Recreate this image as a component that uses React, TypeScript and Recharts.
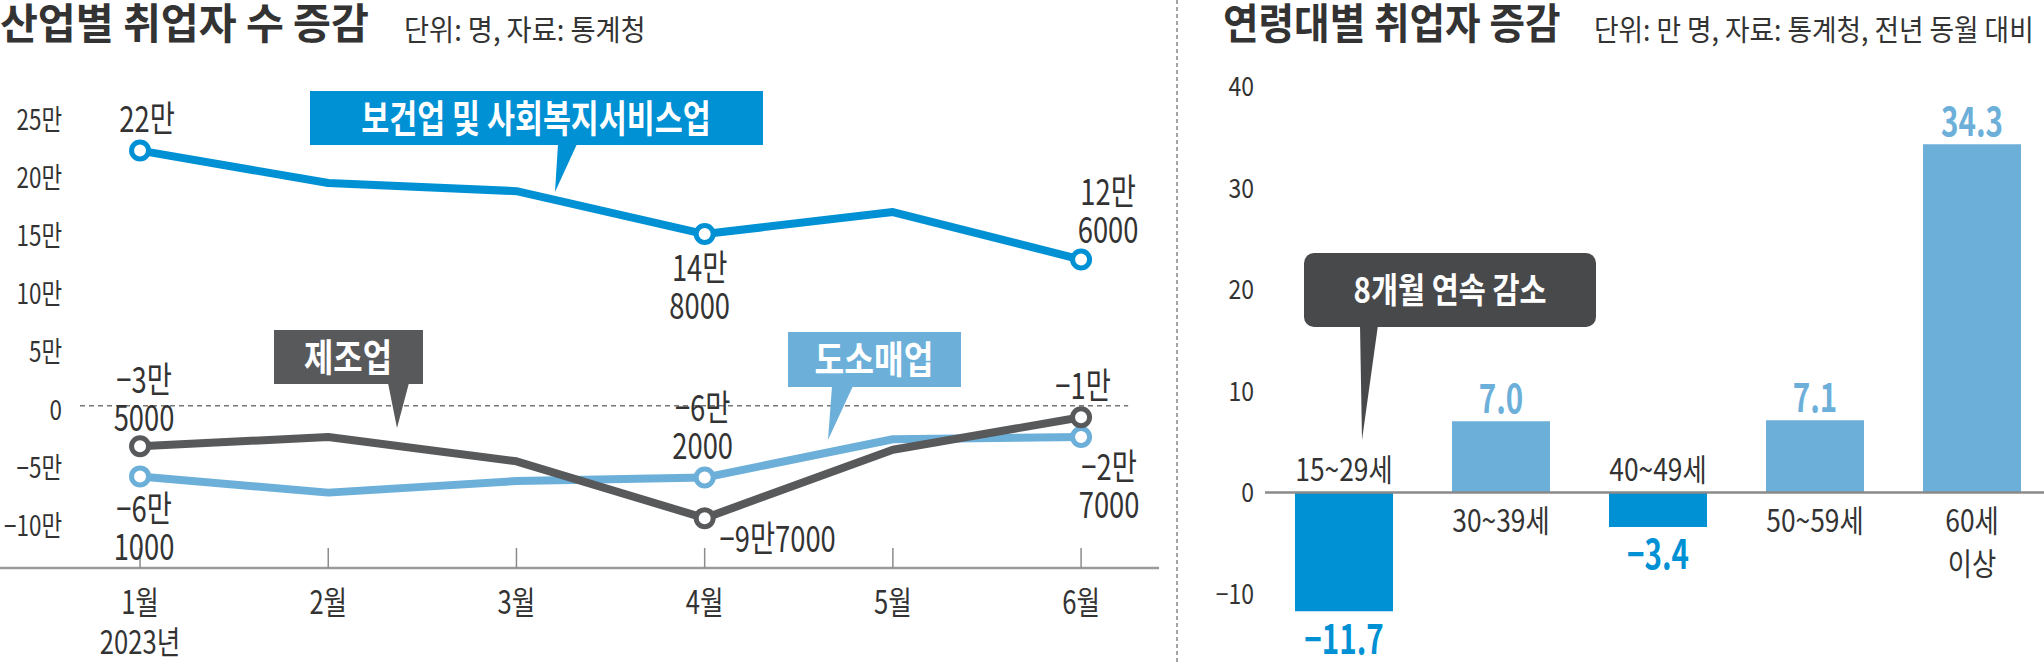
import React from "react";
import {
  Bar,
  BarChart,
  Cell,
  LabelList,
  Line,
  LineChart,
  ReferenceLine,
  XAxis,
  YAxis,
} from "recharts";

// ── data ────────────────────────────────────────────────────────────────────

const months = ["1월", "2월", "3월", "4월", "5월", "6월"];
const monthNo = [1, 2, 3, 4, 5, 6];
// 취업자 수 증감, 만 명
const healthWelfare = [22.0, 19.2, 18.5, 14.8, 16.7, 12.6];
const manufacturing = [-3.5, -2.7, -4.8, -9.7, -3.8, -1.0];
const wholesaleRetail = [-6.1, -7.5, -6.5, -6.2, -2.9, -2.7];
const lineTicks = [-10, -5, 0, 5, 10, 15, 20, 25];
const labelledMonths = [0, 3, 5];

const ageGroups = ["15~29세", "30~39세", "40~49세", "50~59세", "60세 이상"];
const ageChange = [-11.7, 7.0, -3.4, 7.1, 34.3];
const barTicks = [-10, 0, 10, 20, 30, 40];

// ── style ───────────────────────────────────────────────────────────────────

const BLUE = "#0091d5";
const LIGHT = "#6cb0da";
const GRAY = "#58595b";
const INK = "#333333";
const FONT = "'Noto Sans CJK KR', 'Noto Sans', sans-serif";
const MINUS = "\u2212";

// condensed text, first line centred vertically on y, more lines below
function CText({
  x,
  y,
  size,
  sx = 0.8,
  anchor = "middle",
  fill = INK,
  weight = 400,
  gap = 38,
  lines,
}: {
  x: number;
  y: number;
  size: number;
  sx?: number;
  anchor?: "start" | "middle" | "end";
  fill?: string;
  weight?: number;
  gap?: number;
  lines: string[];
}) {
  return (
    <text
      transform={`translate(${x} ${y}) scale(${sx} 1)`}
      textAnchor={anchor}
      fontSize={size}
      fontWeight={weight}
      fill={fill}
      fontFamily={FONT}
    >
      {lines.map((t, k) => (
        <tspan key={k} x={0} y={k * gap} dy="0.36em">
          {t}
        </tspan>
      ))}
    </text>
  );
}

// 14.8 -> ["14만", "8000"]
function manParts(v: number): [string, string] {
  const tenths = Math.round(Math.abs(v) * 10);
  const sign = v < 0 ? MINUS : "";
  const rest = tenths % 10 ? `${(tenths % 10) * 1000}` : "";
  return [`${sign}${Math.floor(tenths / 10)}만`, rest];
}

// where each point label sits relative to its marker
type Place = { dx: number; dy: number; inline?: boolean };
const healthPlace: Record<number, Place> = {
  0: { dx: 7, dy: -32 },
  3: { dx: -5, dy: 34 },
  5: { dx: 27, dy: -68 },
};
const mfgPlace: Record<number, Place> = {
  0: { dx: 4, dy: -66 },
  3: { dx: 73, dy: 21, inline: true },
  5: { dx: 2, dy: -31 },
};
const retailPlace: Record<number, Place> = {
  0: { dx: 4, dy: 33 },
  3: { dx: -2, dy: -70 },
  5: { dx: 28, dy: 30 },
};

const pointLabel = (place: Record<number, Place>) => (p: any) => {
  const pos = place[p.index];
  const px = p.x ?? p.viewBox?.x;
  const py = p.y ?? p.viewBox?.y;
  if (!pos || px == null) return <g key={`l${p.index}`} />;
  const [a, b] = manParts(Number(p.value));
  const lines = pos.inline || !b ? [a + b] : [a, b];
  return (
    <CText key={`l${p.index}`} x={px + pos.dx} y={py + pos.dy} size={36} sx={0.76} lines={lines} />
  );
};

const dotFor = (color: string) => (p: any) =>
  labelledMonths.includes(p.index) ? (
    <circle key={`d${p.index}`} cx={p.cx} cy={p.cy} r={8.5} fill="#fff" stroke={color} strokeWidth={5} />
  ) : (
    <g key={`d${p.index}`} />
  );

function MonthTick(p: any) {
  const { x, y, payload } = p;
  const i = monthNo.indexOf(payload.value);
  return (
    <g>
      <line x1={x} x2={x} y1={y - 20} y2={y} stroke="#8c8c8c" strokeWidth={1.5} />
      <CText x={x} y={y + 34} size={32} sx={0.8} gap={40} lines={i === 0 ? [months[i], "2023년"] : [months[i]]} />
    </g>
  );
}

function ManTick(p: any) {
  const v = Number(p.payload.value);
  const txt = v === 0 ? "0" : `${v < 0 ? MINUS : ""}${Math.abs(v)}만`;
  return <CText x={p.x} y={p.y + 4} size={28} sx={0.8} anchor="end" lines={[txt]} />;
}

function PlainTick(p: any) {
  const v = Number(p.payload.value);
  return <CText x={p.x} y={p.y} size={27} sx={0.85} anchor="end" lines={[`${v < 0 ? MINUS : ""}${Math.abs(v)}`]} />;
}

function rectOf(p: any) {
  const vb = p.viewBox ?? p;
  const x = p.x ?? vb.x;
  const y = p.y ?? vb.y;
  const w = p.width ?? vb.width;
  const h = p.height ?? vb.height;
  return { x, w, top: Math.min(y, y + h), bottom: Math.max(y, y + h) };
}

function ValueLabel(p: any) {
  const v = ageChange[p.index];
  const r = rectOf(p);
  const neg = v < 0;
  return (
    <CText
      key={`v${p.index}`}
      x={r.x + r.w / 2}
      y={neg ? r.bottom + 28 : r.top - 23}
      size={40}
      sx={0.74}
      weight={700}
      fill={neg ? BLUE : LIGHT}
      lines={[`${neg ? MINUS : ""}${Math.abs(v).toFixed(1)}`]}
    />
  );
}

function AgeLabel(p: any) {
  const v = ageChange[p.index];
  const r = rectOf(p);
  // negative bars: name above the zero line; positive: below it
  const y0 = v < 0 ? r.top - 23 : r.bottom + 28;
  return (
    <CText
      key={`a${p.index}`}
      x={r.x + r.w / 2}
      y={y0}
      size={31}
      sx={0.85}
      gap={43}
      lines={ageGroups[p.index].split(" ")}
    />
  );
}

function Title({ left, size, sx, weight, text }: { left: number; size: number; sx: number; weight: number; text: string }) {
  return (
    <div
      style={{
        position: "absolute",
        left,
        top: 0,
        fontSize: size,
        lineHeight: `${size}px`,
        fontWeight: weight,
        color: INK,
        whiteSpace: "nowrap",
        transform: `scaleX(${sx})`,
        transformOrigin: "0 0",
      }}
    >
      {text}
    </div>
  );
}

// ── App ─────────────────────────────────────────────────────────────────────

export default function App() {
  const lineRows = monthNo.map((m, i) => ({
    m,
    month: months[i],
    health: healthWelfare[i],
    mfg: manufacturing[i],
    retail: wholesaleRetail[i],
  }));
  const ageRows = ageGroups.map((age, i) => ({ age, change: ageChange[i] }));

  return (
    <div
      style={{
        position: "absolute",
        left: 0,
        top: 0,
        width: 2044,
        height: 664,
        overflow: "hidden",
        background: "#fff",
        fontFamily: FONT,
      }}
    >
      <div style={{ position: "absolute", left: 0, top: 0 }}>
        <LineChart width={1159} height={664} data={lineRows} margin={{ top: 81, right: 0, bottom: 0, left: 0 }}>
          <XAxis
            type="number"
            dataKey="m"
            domain={[0.681, 6.414]}
            ticks={monthNo}
            interval={0}
            height={96}
            tickSize={0}
            tickMargin={0}
            tickLine={false}
            axisLine={false}
            tick={MonthTick}
          />
          <YAxis
            width={80}
            domain={[-14, 28]}
            ticks={lineTicks}
            interval={0}
            tickSize={0}
            tickMargin={18}
            axisLine={false}
            tickLine={false}
            tick={ManTick}
          />
          {/* base line runs under the value axis labels too */}
          <ReferenceLine
            segment={[
              { x: 0.256, y: -14 },
              { x: 6.414, y: -14 },
            ]}
            ifOverflow="visible"
            stroke="#9a9a9a"
            strokeWidth={2.5}
          />
          <ReferenceLine
            segment={[
              { x: 0.681, y: 0 },
              { x: 6.25, y: 0 },
            ]}
            stroke="#777"
            strokeWidth={1.5}
            strokeDasharray="5 4"
          />
          <Line
            dataKey="retail"
            stroke={LIGHT}
            strokeWidth={8}
            strokeLinejoin="round"
            dot={dotFor(LIGHT)}
            activeDot={false}
            isAnimationActive={false}
          >
            <LabelList dataKey="retail" content={pointLabel(retailPlace)} />
          </Line>
          <Line
            dataKey="mfg"
            stroke={GRAY}
            strokeWidth={8}
            strokeLinejoin="round"
            dot={dotFor(GRAY)}
            activeDot={false}
            isAnimationActive={false}
          >
            <LabelList dataKey="mfg" content={pointLabel(mfgPlace)} />
          </Line>
          <Line
            dataKey="health"
            stroke={BLUE}
            strokeWidth={8}
            strokeLinejoin="round"
            dot={dotFor(BLUE)}
            activeDot={false}
            isAnimationActive={false}
          >
            <LabelList dataKey="health" content={pointLabel(healthPlace)} />
          </Line>
        </LineChart>
      </div>

      <div style={{ position: "absolute", left: 1205, top: 0 }}>
        <BarChart width={845} height={665} data={ageRows} margin={{ top: 66, right: 0, bottom: 0, left: 0 }}>
          <XAxis dataKey="age" hide />
          <YAxis
            width={60}
            domain={[-17, 42]}
            ticks={barTicks}
            interval={0}
            tickSize={0}
            tickMargin={11}
            axisLine={false}
            tickLine={false}
            tick={PlainTick}
          />
          <Bar dataKey="change" barSize={98} isAnimationActive={false}>
            {ageChange.map((v, i) => (
              <Cell key={i} fill={v < 0 ? BLUE : LIGHT} />
            ))}
            <LabelList dataKey="change" content={ValueLabel} />
            <LabelList dataKey="age" content={AgeLabel} />
          </Bar>
          <ReferenceLine y={0} stroke="#8a8a8a" strokeWidth={2.5} />
        </BarChart>
      </div>

      {/* titles */}
      <Title left={0} size={42} sx={0.98} weight={600} text="산업별 취업자 수 증감" />
      <div style={{ position: "absolute", left: 404, top: 14 }}>
        <Title left={0} size={29} sx={0.94} weight={400} text="단위: 명, 자료: 통계청" />
      </div>
      <Title left={1223} size={42} sx={0.92} weight={600} text="연령대별 취업자 증감" />
      <div style={{ position: "absolute", left: 1594, top: 14 }}>
        <Title left={0} size={29} sx={0.92} weight={400} text="단위: 만 명, 자료: 통계청, 전년 동월 대비" />
      </div>

      <svg
        width={2044}
        height={664}
        style={{ position: "absolute", left: 0, top: 0, pointerEvents: "none" }}
      >
        <line x1={1177} x2={1177} y1={0} y2={664} stroke="#888" strokeWidth={1.5} strokeDasharray="4 3" />

        {/* callouts */}
        <rect x={310} y={91} width={453} height={54} fill={BLUE} />
        <polygon points="558,144 577,144 555,192" fill={BLUE} />
        <CText x={536} y={118} size={38} sx={0.8} weight={700} fill="#fff" lines={["보건업 및 사회복지서비스업"]} />

        <rect x={274} y={330} width={149} height={54} fill={GRAY} />
        <polygon points="388,383 409,383 397,428" fill={GRAY} />
        <CText x={348} y={357} size={38} sx={0.84} weight={700} fill="#fff" lines={["제조업"]} />

        <rect x={788} y={332} width={173} height={55} fill={LIGHT} />
        <polygon points="832,386 853,386 828,440" fill={LIGHT} />
        <CText x={874} y={359} size={38} sx={0.85} weight={700} fill="#fff" lines={["도소매업"]} />

        <rect x={1304} y={253} width={292} height={74} rx={10} fill="#48494b" />
        <polygon points="1360,325 1378,325 1362,440" fill="#48494b" />
        <CText x={1450} y={290} size={35} sx={0.84} weight={700} fill="#fff" lines={["8개월 연속 감소"]} />
      </svg>
    </div>
  );
}
